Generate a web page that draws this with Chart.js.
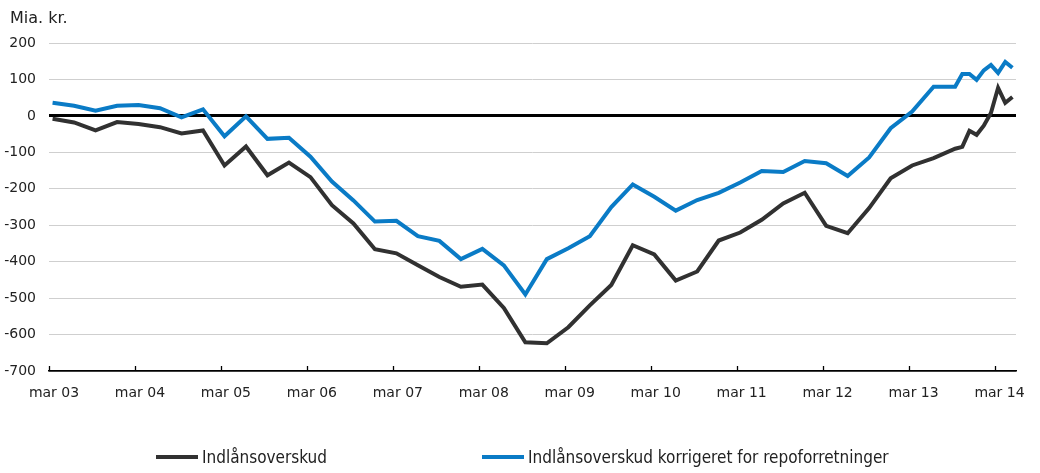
<!DOCTYPE html>
<html>
<head>
<meta charset="utf-8">
<title>Indlånsoverskud</title>
<script src="https://cdn.jsdelivr.net/npm/chart.js@4.4.1/dist/chart.umd.min.js"></script>
<style>
  html, body { margin: 0; padding: 0; background: #fff; }
  #wrap { position: relative; width: 1040px; height: 473px; }
  #myChart { display: block; }
  #unit { position: absolute; left: 10px; top: 8px; font: 16px "DejaVu Sans", sans-serif; color: #222; }
  #legend { position: absolute; left: 0; top: 446px; width: 1040px; height: 22px;
            font-family: "Liberation Sans Narrow", "DejaVu Sans Condensed", "Roboto", sans-serif;
            font-size: 17px; color: #222; }
  .item { position: absolute; top: 0; display: flex; align-items: center; height: 22px; }
  .swatch { width: 42px; height: 4px; margin-right: 4px; }
</style>
</head>
<body>
<div id="wrap">
  <canvas id="myChart" width="1040" height="473"></canvas>
  <div id="unit">Mia. kr.</div>
  <div id="legend"></div>
</div>
<script>
// quarterly until sep 13, monthly afterwards
let dates = [
  "2003-03", "2003-06", "2003-09", "2003-12",
  "2004-03", "2004-06", "2004-09", "2004-12",
  "2005-03", "2005-06", "2005-09", "2005-12",
  "2006-03", "2006-06", "2006-09", "2006-12",
  "2007-03", "2007-06", "2007-09", "2007-12",
  "2008-03", "2008-06", "2008-09", "2008-12",
  "2009-03", "2009-06", "2009-09", "2009-12",
  "2010-03", "2010-06", "2010-09", "2010-12",
  "2011-03", "2011-06", "2011-09", "2011-12",
  "2012-03", "2012-06", "2012-09", "2012-12",
  "2013-03", "2013-06", "2013-09",
  "2013-10", "2013-11", "2013-12",
  "2014-01", "2014-02", "2014-03", "2014-04", "2014-05",
];

let indlaan = [
  -8, -18, -40, -17,
  -22, -31, -48, -40,
  -136, -84, -163, -128,
  -168, -245, -295, -366,
  -377, -410, -442, -469,
  -463, -527, -621, -624,
  -580, -520, -464, -355,
  -380, -452, -427, -342,
  -320, -285, -240, -211,
  -302, -322, -253, -171,
  -136, -116, -90,
  -85, -41, -52,
  -27, 8, 77, 36, 52,
];

let korrigeret = [
  36, 28, 14, 28,
  30, 21, -4, 18,
  -56, -1, -63, -60,
  -112, -180, -232, -290,
  -288, -330, -343, -393,
  -365, -410, -490, -393,
  -363, -330, -250, -188,
  -222, -260, -231, -211,
  -183, -151, -154, -124,
  -130, -165, -114, -34,
  12, 80, 80,
  115, 115, 99,
  125, 140, 118, 148, 132,
];

let seriesNames = ["Indlånsoverskud", "Indlånsoverskud korrigeret for repoforretninger"];
let seriesColors = ["#313131", "#0a7bc6"];

let tickLabels = ["mar 03", "mar 04", "mar 05", "mar 06", "mar 07", "mar 08",
                  "mar 09", "mar 10", "mar 11", "mar 12", "mar 13", "mar 14"];

// months counted from mar 03, points sit mid-month
const toMonth = (d) => {
  const [y, m] = d.split("-").map(Number);
  return (y - 2003) * 12 + (m - 3) + 0.5;
};

const ctx = document.getElementById("myChart");

const upTicks = {
  id: "upTicks",
  afterDatasetsDraw(chart) {
    const xs = chart.scales.x;
    const c = chart.ctx;
    const bottom = chart.chartArea.bottom;
    c.save();
    c.strokeStyle = "#000";
    c.lineWidth = 1.3;
    xs.ticks.forEach((t) => {
      const px = Math.round(xs.getPixelForValue(t.value)) + 0.5;
      c.beginPath();
      c.moveTo(px, bottom);
      c.lineTo(px, bottom - 5);
      c.stroke();
    });
    c.restore();
  },
};

new Chart(ctx, {
  type: "line",
  data: {
    datasets: [indlaan, korrigeret].map((vals, i) => ({
      label: seriesNames[i],
      data: vals.map((v, j) => ({ x: toMonth(dates[j]), y: v })),
      borderColor: seriesColors[i],
      backgroundColor: seriesColors[i],
      borderWidth: 4,
      pointRadius: 0,
      tension: 0,
    })),
  },
  options: {
    responsive: false,
    animation: false,
    layout: { padding: { left: 3, right: 24, top: 43, bottom: 73 } },
    plugins: {
      legend: { display: false },
      tooltip: { enabled: false },
    },
    scales: {
      x: {
        type: "linear",
        min: 0,
        max: 135,
        afterBuildTicks: (scale) => {
          scale.ticks = tickLabels.map((_, i) => ({ value: i * 12 }));
        },
        afterFit: (scale) => { scale.height = 29; },
        grid: { display: false, drawTicks: false },
        border: { display: true, color: "#000", width: 1.5 },
        ticks: {
          autoSkip: false,
          maxRotation: 0,
          padding: 14,
          labelOffset: 5,
          color: "#222",
          font: { family: "DejaVu Sans", size: 14 },
          callback: (v) => tickLabels[Math.round(v / 12)],
        },
      },
      y: {
        min: -700,
        max: 200,
        afterFit: (scale) => { scale.width = 46; },
        ticks: {
          stepSize: 100,
          padding: 13,
          color: "#222",
          font: { family: "DejaVu Sans", size: 14 },
        },
        grid: {
          drawTicks: false,
          color: (c) => (c.tick.value === 0 || c.tick.value === -700 ? "#000" : "#cfcfcf"),
          lineWidth: (c) => (c.tick.value === 0 ? 3 : c.tick.value === -700 ? 1.5 : 1),
        },
        border: { display: false },
      },
    },
  },
  plugins: [upTicks],
});

// legend below the plot
const legend = document.getElementById("legend");
const legendLeft = [156, 482];
seriesNames.forEach((name, i) => {
  const item = document.createElement("div");
  item.className = "item";
  item.style.left = legendLeft[i] + "px";
  item.innerHTML = '<span class="swatch" style="background:' + seriesColors[i] + '"></span><span>' + name + "</span>";
  legend.appendChild(item);
});
</script>
</body>
</html>
